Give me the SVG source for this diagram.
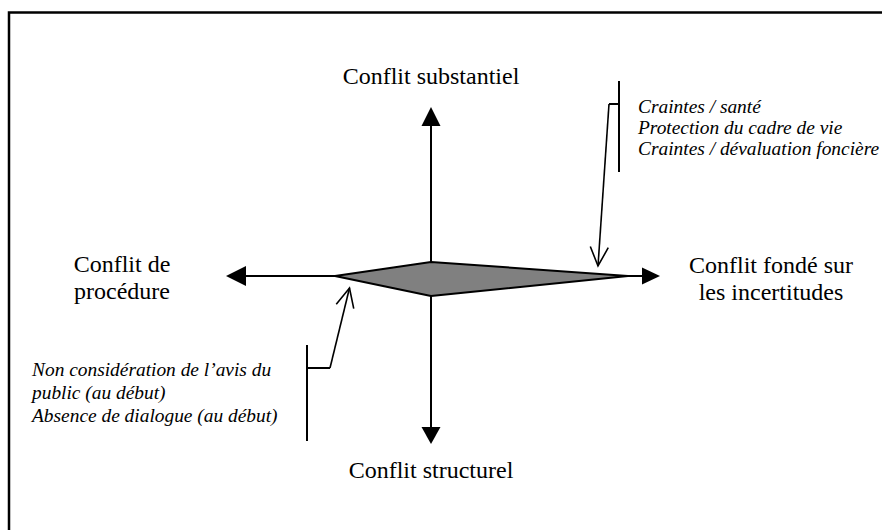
<svg xmlns="http://www.w3.org/2000/svg" width="882" height="530" viewBox="0 0 882 530">
<style>
.lbl{font-family:"Liberation Serif","Tinos","Times New Roman","DejaVu Serif",serif;font-size:24px;fill:#000}
.it{font-family:"Liberation Serif","Tinos","Times New Roman","DejaVu Serif",serif;font-size:19.4px;font-style:italic;fill:#000}
.ax{stroke:#000;stroke-width:2;fill:none}
.br{stroke:#000;stroke-width:2;fill:none}
.cn{stroke:#000;stroke-width:1.6;fill:none}
.hd{fill:#000;stroke:none}
</style>
<defs>
<marker id="open" markerUnits="userSpaceOnUse" markerWidth="24" markerHeight="24" viewBox="-22 -12 24 24" refX="0" refY="0" orient="auto">
<path d="M-19,-9 L0,0 L-19,9" fill="none" stroke="#000" stroke-width="1.6"/>
</marker>
</defs>
<rect width="882" height="530" fill="#fff"/>
<path d="M9,540 V12.5 H892" fill="none" stroke="#000" stroke-width="2.5"/>
<g id="connectors">
<line class="ax" x1="431" y1="125" x2="431" y2="428"/>
<line class="ax" x1="245" y1="276" x2="643" y2="276"/>
<polygon class="hd" points="431,107 421.5,126 440.5,126"/>
<polygon class="hd" points="431,444 421.5,427 440.5,427"/>
<polygon class="hd" points="226,276 246,266 246,286"/>
<polygon class="hd" points="660,276 642,267.5 642,284.5"/>
<path class="br" d="M619,81 V172 M619,104 H609"/>
<path class="cn" d="M609,104 L598,266" marker-end="url(#open)"/>
<path class="br" d="M307,345 V441 M307,368 H330"/>
<path class="cn" d="M330,368 L349.5,288" marker-end="url(#open)"/>
</g>
<g id="core">
<polygon points="335,276 431,262 628,276 431,296" fill="#808080" stroke="#000" stroke-width="2" stroke-linejoin="round"/>
</g>
<g id="substantiel"><text class="lbl" x="431" y="83.5" text-anchor="middle" font-family="Liberation Serif, DejaVu Serif, serif">Conflit substantiel</text></g>
<g id="procedure">
<text class="lbl" x="122" y="272" text-anchor="middle">Conflit de</text>
<text class="lbl" x="122" y="299" text-anchor="middle">procédure</text>
</g>
<g id="incertitudes">
<text class="lbl" x="771" y="273" text-anchor="middle">Conflit fondé sur</text>
<text class="lbl" x="771" y="300" text-anchor="middle">les incertitudes</text>
</g>
<g id="structurel"><text class="lbl" x="431" y="478" text-anchor="middle">Conflit structurel</text></g>
<g id="note-incertitudes">
<text class="it" x="638" y="112.5">Craintes / santé</text>
<text class="it" x="638" y="133.5">Protection du cadre de vie</text>
<text class="it" x="638" y="154.5">Craintes / dévaluation foncière</text>
</g>
<g id="note-procedure">
<text class="it" x="32" y="375.5">Non considération de l’avis du</text>
<text class="it" x="32" y="398.5">public (au début)</text>
<text class="it" x="32" y="421.5">Absence de dialogue (au début)</text>
</g>
</svg>
